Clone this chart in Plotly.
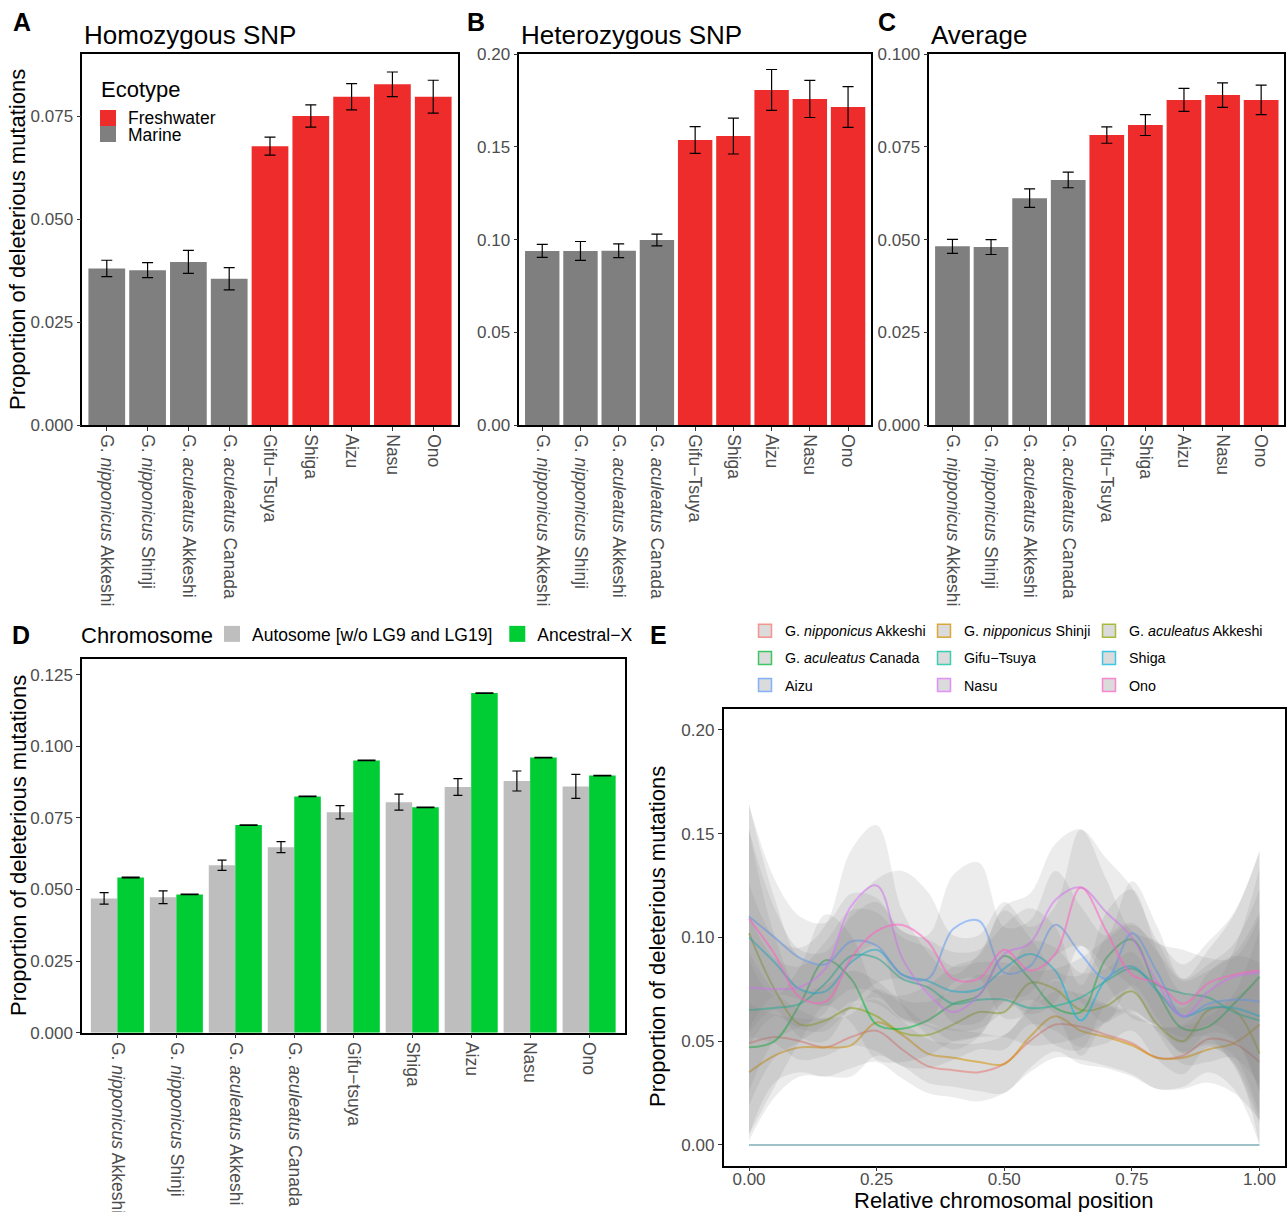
import plotly.graph_objects as go

W, H = 1287, 1212
FONT = "Liberation Sans, Arial, sans-serif"


def px(x):
    return x / W


def py(y):
    return 1 - y / H


# ---------------- data: panels A-C ----------------
POPS_ABC = ["G. <i>nipponicus</i> Akkeshi", "G. <i>nipponicus</i> Shinji",
            "G. <i>aculeatus</i> Akkeshi", "G. <i>aculeatus</i> Canada",
            "Gifu−Tsuya", "Shiga", "Aizu", "Nasu", "Ono"]
ECOTYPE = ["Marine", "Marine", "Marine", "Marine",
           "Freshwater", "Freshwater", "Freshwater", "Freshwater", "Freshwater"]
ECO_COLORS = {"Freshwater": "#EE2C2C", "Marine": "#7F7F7F"}

HOMO = [0.0380, 0.0376, 0.0396, 0.0355, 0.0677, 0.0750, 0.0797, 0.0827, 0.0797]
HOMO_SE = [0.0020, 0.0018, 0.0028, 0.0027, 0.0022, 0.0027, 0.0032, 0.0030, 0.0040]

HETERO = [0.0939, 0.0939, 0.0940, 0.0998, 0.1538, 0.1559, 0.1808, 0.1759, 0.1716]
HETERO_SE = [0.0035, 0.0051, 0.0037, 0.0032, 0.0072, 0.0097, 0.0110, 0.0100, 0.0110]

AVERAGE = [0.0482, 0.0480, 0.0612, 0.0661, 0.0782, 0.0809, 0.0877, 0.0890, 0.0877]
AVERAGE_SE = [0.0019, 0.0020, 0.0025, 0.0021, 0.0022, 0.0028, 0.0031, 0.0033, 0.0040]

# ---------------- data: panel D ----------------
POPS_D = ["G. <i>nipponicus</i> Akkeshi", "G. <i>nipponicus</i> Shinji",
          "G. <i>aculeatus</i> Akkeshi", "G. <i>aculeatus</i> Canada",
          "Gifu−tsuya", "Shiga", "Aizu", "Nasu", "Ono"]
AUTOSOME = [0.0469, 0.0473, 0.0585, 0.0648, 0.0770, 0.0805, 0.0858, 0.0879, 0.0860]
AUTOSOME_SE = [0.0020, 0.0022, 0.0018, 0.0019, 0.0023, 0.0028, 0.0029, 0.0035, 0.0042]
ANCX = [0.0542, 0.0483, 0.0725, 0.0825, 0.0951, 0.0787, 0.1186, 0.0961, 0.0898]
ANCX_SE = [0.0001, 0.0001, 0.0001, 0.0001, 0.0001, 0.0001, 0.0001, 0.0001, 0.0001]

# ---------------- data: panel E (smoothed curves) ----------------
POS = [0.00, 0.05, 0.10, 0.15, 0.20, 0.25, 0.30, 0.35, 0.40, 0.45, 0.50,
       0.55, 0.60, 0.65, 0.70, 0.75, 0.80, 0.85, 0.90, 0.95, 1.00]

NAK_Y = [0.049, 0.052, 0.050, 0.047, 0.052, 0.055, 0.046, 0.038, 0.036, 0.035, 0.039,
         0.050, 0.058, 0.057, 0.053, 0.049, 0.042, 0.043, 0.051, 0.049, 0.040]
NAK_SE = [0.044, 0.022, 0.015, 0.014, 0.015, 0.015, 0.014, 0.013, 0.013, 0.014, 0.014,
          0.015, 0.016, 0.016, 0.015, 0.015, 0.015, 0.015, 0.016, 0.022, 0.040]

NSH_Y = [0.035, 0.043, 0.047, 0.047, 0.048, 0.059, 0.053, 0.044, 0.042, 0.040, 0.039,
         0.052, 0.062, 0.055, 0.052, 0.048, 0.042, 0.042, 0.046, 0.049, 0.058]
NSH_SE = [0.033, 0.020, 0.014, 0.014, 0.015, 0.016, 0.015, 0.014, 0.014, 0.014, 0.014,
          0.015, 0.017, 0.016, 0.015, 0.015, 0.015, 0.015, 0.016, 0.024, 0.046]

AAK_Y = [0.102, 0.075, 0.058, 0.060, 0.066, 0.062, 0.054, 0.053, 0.058, 0.064, 0.064,
         0.078, 0.075, 0.065, 0.067, 0.074, 0.058, 0.050, 0.065, 0.065, 0.044]
AAK_SE = [0.050, 0.026, 0.017, 0.017, 0.018, 0.017, 0.016, 0.016, 0.017, 0.018, 0.018,
          0.020, 0.020, 0.018, 0.018, 0.019, 0.017, 0.016, 0.018, 0.026, 0.044]

ACA_Y = [0.047, 0.050, 0.068, 0.089, 0.080, 0.058, 0.056, 0.060, 0.068, 0.072, 0.091,
         0.080, 0.066, 0.064, 0.090, 0.099, 0.074, 0.056, 0.057, 0.068, 0.081]
ACA_SE = [0.042, 0.022, 0.018, 0.022, 0.021, 0.017, 0.016, 0.017, 0.018, 0.019, 0.022,
          0.020, 0.018, 0.018, 0.022, 0.024, 0.020, 0.017, 0.017, 0.026, 0.052]

GIF_Y = [0.065, 0.066, 0.068, 0.078, 0.091, 0.090, 0.080, 0.076, 0.068, 0.070, 0.070,
         0.066, 0.067, 0.071, 0.079, 0.085, 0.077, 0.073, 0.071, 0.064, 0.060]
GIF_SE = [0.046, 0.024, 0.018, 0.020, 0.022, 0.022, 0.020, 0.019, 0.018, 0.018, 0.018,
          0.018, 0.018, 0.019, 0.020, 0.021, 0.020, 0.021, 0.019, 0.026, 0.050]

SHI_Y = [0.100, 0.088, 0.075, 0.074, 0.088, 0.094, 0.082, 0.079, 0.074, 0.075, 0.085,
         0.092, 0.084, 0.060, 0.080, 0.086, 0.074, 0.062, 0.066, 0.066, 0.062]
SHI_SE = [0.052, 0.026, 0.019, 0.019, 0.022, 0.023, 0.021, 0.020, 0.019, 0.019, 0.021,
          0.022, 0.021, 0.017, 0.020, 0.021, 0.019, 0.017, 0.018, 0.026, 0.050]

AIZ_Y = [0.110, 0.100, 0.090, 0.087, 0.098, 0.096, 0.082, 0.080, 0.104, 0.108, 0.083,
         0.086, 0.106, 0.092, 0.080, 0.102, 0.083, 0.062, 0.068, 0.070, 0.069]
AIZ_SE = [0.054, 0.028, 0.020, 0.020, 0.023, 0.023, 0.021, 0.021, 0.026, 0.028, 0.022,
          0.022, 0.026, 0.023, 0.021, 0.025, 0.022, 0.018, 0.019, 0.027, 0.054]

NAS_Y = [0.076, 0.075, 0.076, 0.085, 0.115, 0.125, 0.090, 0.073, 0.064, 0.072, 0.092,
         0.097, 0.118, 0.124, 0.112, 0.100, 0.078, 0.062, 0.074, 0.081, 0.083]
NAS_SE = [0.050, 0.025, 0.019, 0.021, 0.027, 0.029, 0.023, 0.020, 0.018, 0.020, 0.023,
          0.024, 0.027, 0.028, 0.026, 0.024, 0.020, 0.018, 0.020, 0.030, 0.058]

ONO_Y = [0.109, 0.092, 0.071, 0.069, 0.090, 0.103, 0.106, 0.098, 0.080, 0.080, 0.094,
         0.084, 0.092, 0.124, 0.103, 0.082, 0.078, 0.068, 0.078, 0.082, 0.084]
ONO_SE = [0.055, 0.027, 0.019, 0.019, 0.023, 0.025, 0.026, 0.024, 0.021, 0.021, 0.023,
          0.021, 0.023, 0.028, 0.025, 0.021, 0.020, 0.019, 0.020, 0.030, 0.058]

ZERO_X = [0.0, 1.0]
ZERO_Y = [0.0, 0.0]

E_SERIES = [
    ("G. <i>nipponicus</i> Akkeshi", (248, 118, 109), NAK_Y, NAK_SE),
    ("G. <i>nipponicus</i> Shinji", (211, 146, 0), NSH_Y, NSH_SE),
    ("G. <i>aculeatus</i> Akkeshi", (147, 170, 0), AAK_Y, AAK_SE),
    ("G. <i>aculeatus</i> Canada", (0, 186, 56), ACA_Y, ACA_SE),
    ("Gifu−Tsuya", (0, 193, 159), GIF_Y, GIF_SE),
    ("Shiga", (0, 185, 227), SHI_Y, SHI_SE),
    ("Aizu", (97, 156, 255), AIZ_Y, AIZ_SE),
    ("Nasu", (219, 114, 251), NAS_Y, NAS_SE),
    ("Ono", (255, 97, 195), ONO_Y, ONO_SE),
]

fig = go.Figure()

ERR = dict(type="data", color="black", thickness=1.2)

# ---------------- panels A, B, C ----------------
for vals, se, xa, ya in [(HOMO, HOMO_SE, "x", "y"),
                         (HETERO, HETERO_SE, "x2", "y2"),
                         (AVERAGE, AVERAGE_SE, "x3", "y3")]:
    fig.add_trace(go.Bar(
        x=POPS_ABC, y=vals,
        marker=dict(color=[ECO_COLORS[e] for e in ECOTYPE], line=dict(width=0)),
        error_y=dict(array=se, width=5.5, **ERR),
        xaxis=xa, yaxis=ya, showlegend=False, hoverinfo="x+y",
    ))

# ---------------- panel D ----------------
GRAY_D = "#BEBEBE"
GREEN_D = "#00CC33"
fig.add_trace(go.Bar(
    x=POPS_D, y=AUTOSOME, name="Autosome [w/o LG9 and LG19]",
    marker=dict(color=GRAY_D, line=dict(width=0)),
    error_y=dict(array=AUTOSOME_SE, width=4.5, **ERR),
    xaxis="x4", yaxis="y4", showlegend=False, offsetgroup="auto",
))
fig.add_trace(go.Bar(
    x=POPS_D, y=ANCX, name="Ancestral−X",
    marker=dict(color=GREEN_D, line=dict(width=0)),
    error_y=dict(array=ANCX_SE, width=9, **ERR),
    xaxis="x4", yaxis="y4", showlegend=False, offsetgroup="ancx",
))
for nm, col in [("Autosome [w/o LG9 and LG19]", GRAY_D), ("Ancestral−X", GREEN_D)]:
    fig.add_trace(go.Scatter(
        x=[None], y=[None], mode="markers", name=nm,
        marker=dict(symbol="square", size=16, color=col, line=dict(width=0)),
        xaxis="x4", yaxis="y4", legend="legend2", showlegend=True,
    ))

# ---------------- panel E ----------------
for name, rgb, yv, se in E_SERIES:
    lower = [a - b for a, b in zip(yv, se)]
    upper = [a + b for a, b in zip(yv, se)]
    fig.add_trace(go.Scatter(
        x=POS, y=lower, mode="lines", line=dict(width=0, shape="spline"),
        xaxis="x5", yaxis="y5", showlegend=False, hoverinfo="skip",
    ))
    fig.add_trace(go.Scatter(
        x=POS, y=upper, mode="lines", line=dict(width=0, shape="spline"),
        fill="tonexty", fillcolor="rgba(125,125,125,0.15)",
        xaxis="x5", yaxis="y5", showlegend=False, hoverinfo="skip",
    ))
    fig.add_trace(go.Scatter(
        x=POS, y=yv, mode="lines", name=name,
        line=dict(width=2, shape="spline", color="rgba(%d,%d,%d,0.55)" % rgb),
        xaxis="x5", yaxis="y5", showlegend=False,
    ))

fig.add_trace(go.Scatter(
    x=ZERO_X, y=ZERO_Y, mode="lines",
    line=dict(width=1.5, color="rgba(70,140,150,0.7)"),
    xaxis="x5", yaxis="y5", showlegend=False, hoverinfo="skip",
))

for i, (name, rgb, yv, se) in enumerate(E_SERIES):
    fig.add_trace(go.Scatter(
        x=[None], y=[None], mode="markers", name=name,
        marker=dict(symbol="square", size=13, color="rgba(215,215,215,0.9)",
                    line=dict(color="rgba(%d,%d,%d,0.75)" % rgb, width=1.5)),
        xaxis="x5", yaxis="y5", legend="legend%d" % (3 + i % 3),
        legendgroup="g%d" % i, showlegend=True,
    ))

# ---------------- axes ----------------
TICKFONT = dict(size=17, color="#4D4D4D", family=FONT)
XTICKFONT = dict(size=17.5, color="#4D4D4D", family=FONT)


def xcat(x0, x1, y_anchor, cats):
    return dict(domain=[px(x0), px(x1)], anchor=y_anchor, type="category",
                categoryorder="array", categoryarray=cats, range=[-0.6, 8.6],
                tickangle=90, ticks="outside", ticklen=4, tickwidth=1,
                tickcolor="#333333", tickfont=XTICKFONT, showline=True,
                linecolor="black", linewidth=1.5, mirror=True,
                showgrid=False, zeroline=False, automargin=False)


def ynum(y0, y1, x_anchor, rng, vals, fmt):
    return dict(domain=[py(y1), py(y0)], anchor=x_anchor, range=rng,
                tickvals=vals, tickformat=fmt, ticks="outside", ticklen=4,
                tickwidth=1, tickcolor="#333333", tickfont=TICKFONT,
                showline=True, linecolor="black", linewidth=1.5, mirror=True,
                showgrid=False, zeroline=False, automargin=False)


layout = dict(
    width=W, height=H, autosize=False, margin=dict(l=0, r=0, t=0, b=0, pad=0),
    paper_bgcolor="white", plot_bgcolor="white",
    font=dict(family=FONT, color="black"),
    barmode="group", bargap=0.1, bargroupgap=0.0,
    xaxis=xcat(82.3, 457.7, "y", POPS_ABC),
    yaxis=ynum(54.3, 425, "x", [0, 0.09], [0, 0.025, 0.05, 0.075], ".3f"),
    xaxis2=xcat(519.3, 871, "y2", POPS_ABC),
    yaxis2=ynum(54.3, 425, "x2", [0, 0.2], [0, 0.05, 0.10, 0.15, 0.20], ".2f"),
    xaxis3=xcat(929.3, 1284.3, "y3", POPS_ABC),
    yaxis3=ynum(54.3, 425, "x3", [0, 0.1], [0, 0.025, 0.05, 0.075, 0.1], ".3f"),
    xaxis4=xcat(82, 624.5, "y4", POPS_D),
    yaxis4=ynum(659.3, 1032.7, "x4", [0, 0.1304],
                [0, 0.025, 0.05, 0.075, 0.1, 0.125], ".3f"),
    xaxis5=dict(domain=[px(723.5), px(1285)], anchor="y5", range=[-0.05, 1.05],
                tickvals=[0, 0.25, 0.5, 0.75, 1.0], tickformat=".2f",
                ticks="outside", ticklen=4, tickwidth=1, tickcolor="#333333",
                tickfont=TICKFONT, showline=True, linecolor="black",
                linewidth=1.5, mirror=True, showgrid=False, zeroline=False,
                automargin=False, ticklabelstandoff=-7),
    yaxis5=ynum(709, 1165.7, "x5", [-0.01, 0.21],
                [0, 0.05, 0.10, 0.15, 0.20], ".2f"),
    legend2=dict(orientation="h", x=px(212), y=py(616), xanchor="left",
                 yanchor="top", bgcolor="rgba(0,0,0,0)",
                 font=dict(size=17.5, color="black")),
)
for k, xl in enumerate([745, 924, 1089]):
    layout["legend%d" % (3 + k)] = dict(
        orientation="v", x=px(xl), y=py(615), xanchor="left", yanchor="top",
        bgcolor="rgba(0,0,0,0)", tracegroupgap=5.5,
        font=dict(size=14.3, color="black"))
fig.update_layout(**layout)

# ---------------- text annotations ----------------


def ann(text, x, y, size, xanchor="left", yanchor="middle", angle=0, color="black"):
    return dict(text=text, x=px(x), y=py(y), xref="paper", yref="paper",
                xanchor=xanchor, yanchor=yanchor, showarrow=False,
                textangle=angle, font=dict(size=size, color=color, family=FONT))


YTITLE = "Proportion of deleterious mutations"
annotations = [
    ann("<b>A</b>", 11, 22, 25), ann("<b>B</b>", 465, 22, 25),
    ann("<b>C</b>", 876, 22, 25), ann("<b>D</b>", 10, 635, 25),
    ann("<b>E</b>", 648, 635, 25),
    ann("Homozygous SNP", 82, 35, 26), ann("Heterozygous SNP", 519, 35, 26),
    ann("Average", 929, 35, 26),
    ann(YTITLE, 18, 240, 22, xanchor="center", angle=-90),
    ann(YTITLE, 18, 846, 22, xanchor="center", angle=-90),
    ann(YTITLE, 658, 937, 22, xanchor="center", angle=-90),
    ann("Relative chromosomal position", 1004, 1200, 22, xanchor="center"),
    ann("Ecotype", 99, 89, 22),
    ann("Freshwater", 126, 118, 17.5),
    ann("Marine", 126, 135, 17.5),
    ann("Chromosome", 79, 635, 22),
]
fig.update_layout(annotations=annotations)

shapes = [
    dict(type="rect", xref="paper", yref="paper", x0=px(100), x1=px(116),
         y0=py(126), y1=py(110), fillcolor=ECO_COLORS["Freshwater"], line=dict(width=0)),
    dict(type="rect", xref="paper", yref="paper", x0=px(100), x1=px(116),
         y0=py(142), y1=py(126), fillcolor=ECO_COLORS["Marine"], line=dict(width=0)),
]
fig.update_layout(shapes=shapes)

fig.write_html("out.html", config={"displayModeBar": False},
               post_script="document.body.style.margin='0px';"
                           "document.body.style.overflow='hidden';")
